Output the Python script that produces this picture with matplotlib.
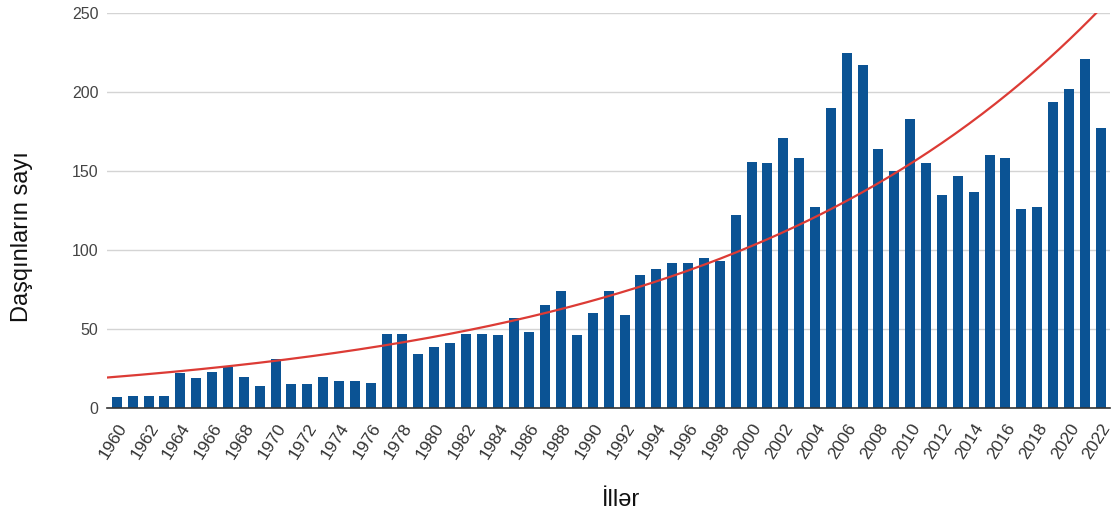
# Flood counts per year, bars + exponential trend line

import matplotlib.pyplot as plt
import numpy as np

# ── data
years = list(range(1960, 2023))
floods = [7, 8, 8, 8, 22, 19, 23, 26, 20, 14,
          31, 15, 15, 20, 17, 17, 16, 47, 47, 34,
          39, 41, 47, 47, 46, 57, 48, 65, 74, 46,
          60, 74, 59, 84, 88, 92, 92, 95, 93, 122,
          156, 155, 171, 158, 127, 190, 225, 217, 164, 150,
          183, 155, 135, 147, 137, 160, 158, 126, 127, 194,
          202, 221, 177]
y_ticks = [0, 50, 100, 150, 200, 250]

# exponential trendline as shown in the chart: value at 1960 and yearly growth rate
trend_start = 19.9
trend_rate = 0.041

BAR_COLOR = "#0b5394"
TREND_COLOR = "#dc3b35"

plt.rcParams["font.family"] = ["Liberation Sans", "DejaVu Sans"]

fig = plt.figure(figsize=(11.13, 5.2), dpi=100)
ax = fig.add_axes([0.096, 0.215, 0.901, 0.760])

x = np.arange(len(years))
ax.bar(x, floods, width=0.63, color=BAR_COLOR, zorder=3)

# ── trend curve
xs = np.linspace(-0.63, len(years) - 0.43, 300)
ax.plot(xs, trend_start * np.exp(trend_rate * xs),
        color=TREND_COLOR, linewidth=1.6, zorder=4)

ax.set_xlim(-0.63, len(years) - 0.43)
ax.set_ylim(0, 250)
ax.set_yticks(y_ticks)
ax.set_yticklabels([str(v) for v in y_ticks], fontsize=11.5, color="#444444")
ax.set_xticks(x[::2])
ax.set_xticklabels([str(y) for y in years[::2]], rotation=58, ha="right",
                   rotation_mode="anchor", fontsize=12.5, color="#333333")
ax.tick_params(axis="both", length=0)
ax.tick_params(axis="y", pad=6)
ax.tick_params(axis="x", pad=9)

ax.grid(True, axis="y", color="#d4d4d4", linewidth=1, zorder=0)
for side in ["top", "right", "left"]:
    ax.spines[side].set_visible(False)
ax.spines["bottom"].set_color("#333333")
ax.spines["bottom"].set_linewidth(1.2)
ax.spines["bottom"].set_zorder(5)

ax.set_ylabel("Daşqınların sayı", fontsize=17, color="#111111")
ax.yaxis.set_label_coords(-0.074, 0.434)
ax.set_xlabel("İllər", fontsize=17, color="#111111")
ax.xaxis.set_label_coords(0.513, -0.205)

plt.savefig("out.png", dpi=100)
plt.close()
